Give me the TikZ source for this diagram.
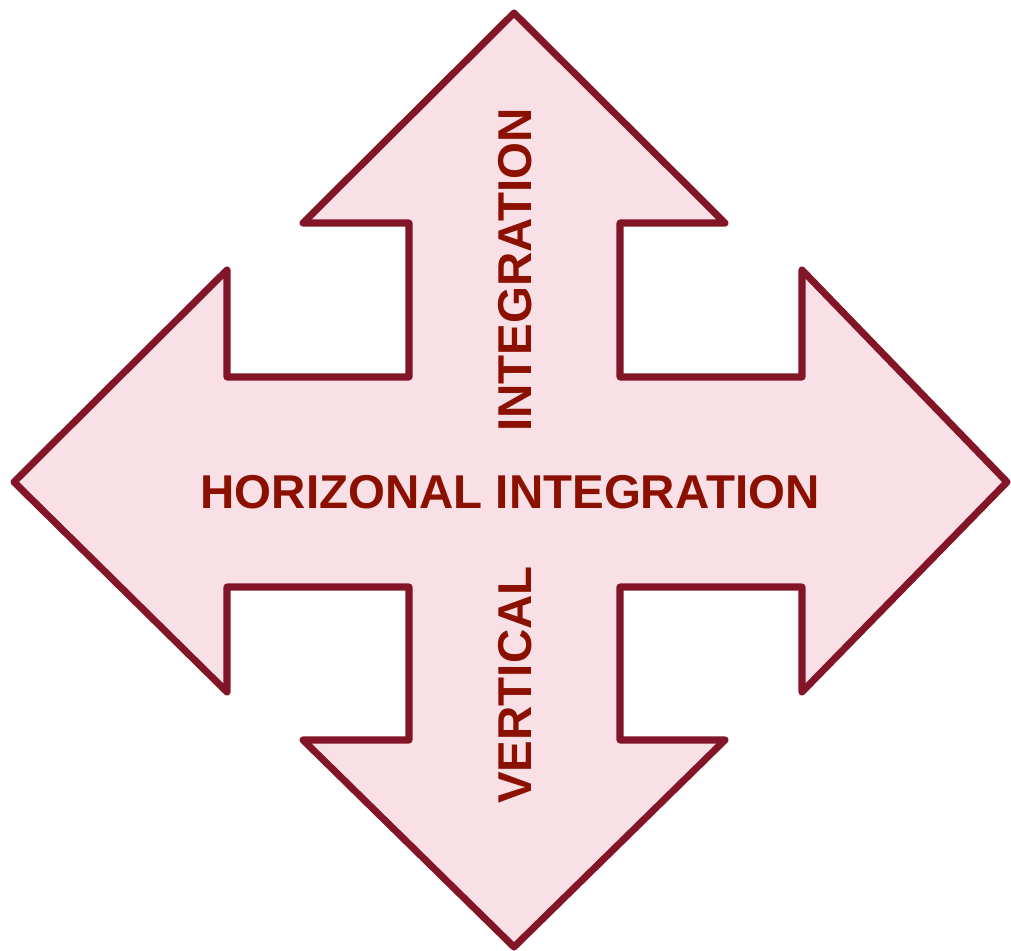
\documentclass[tikz,border=0pt]{standalone}
\usepackage{fontspec}
\setmainfont{Liberation Sans}
\usetikzlibrary{calc}
\definecolor{pfeilrand}{HTML}{821628}
\definecolor{pfeilfuell}{HTML}{F8E0E6}
\definecolor{schrift}{HTML}{8B1000}
\begin{document}
\begin{tikzpicture}[x=0.01cm,y=-0.01cm,
  beschr/.style={text=schrift,font=\fontsize{13.5}{16}\selectfont\bfseries,inner sep=0pt}]
  \useasboundingbox (0,0) rectangle (1011,951);
  % Kreuzpfeil
  \draw[pfeilrand,fill=pfeilfuell,line width=2pt,line join=round]
    (514,13) -- (725,223) -- (620,223) -- (620,377) -- (802,377) -- (802,270)
    -- (1007,482) -- (802,692) -- (802,587) -- (620,587) -- (620,740) -- (725,740)
    -- (514,947) -- (303,740) -- (409,740) -- (409,587) -- (227,587) -- (227,692)
    -- (14,482) -- (227,270) -- (227,377) -- (409,377) -- (409,223) -- (303,223) -- cycle;
  % Beschriftung
  \node[beschr] (horiz) at (510,492) {HORIZONAL INTEGRATION};
  \node[beschr,rotate=90] (integ) at (515,270) {INTEGRATION};
  \node[beschr,rotate=90] (vert) at (515,685) {VERTICAL};
\end{tikzpicture}
\end{document}
